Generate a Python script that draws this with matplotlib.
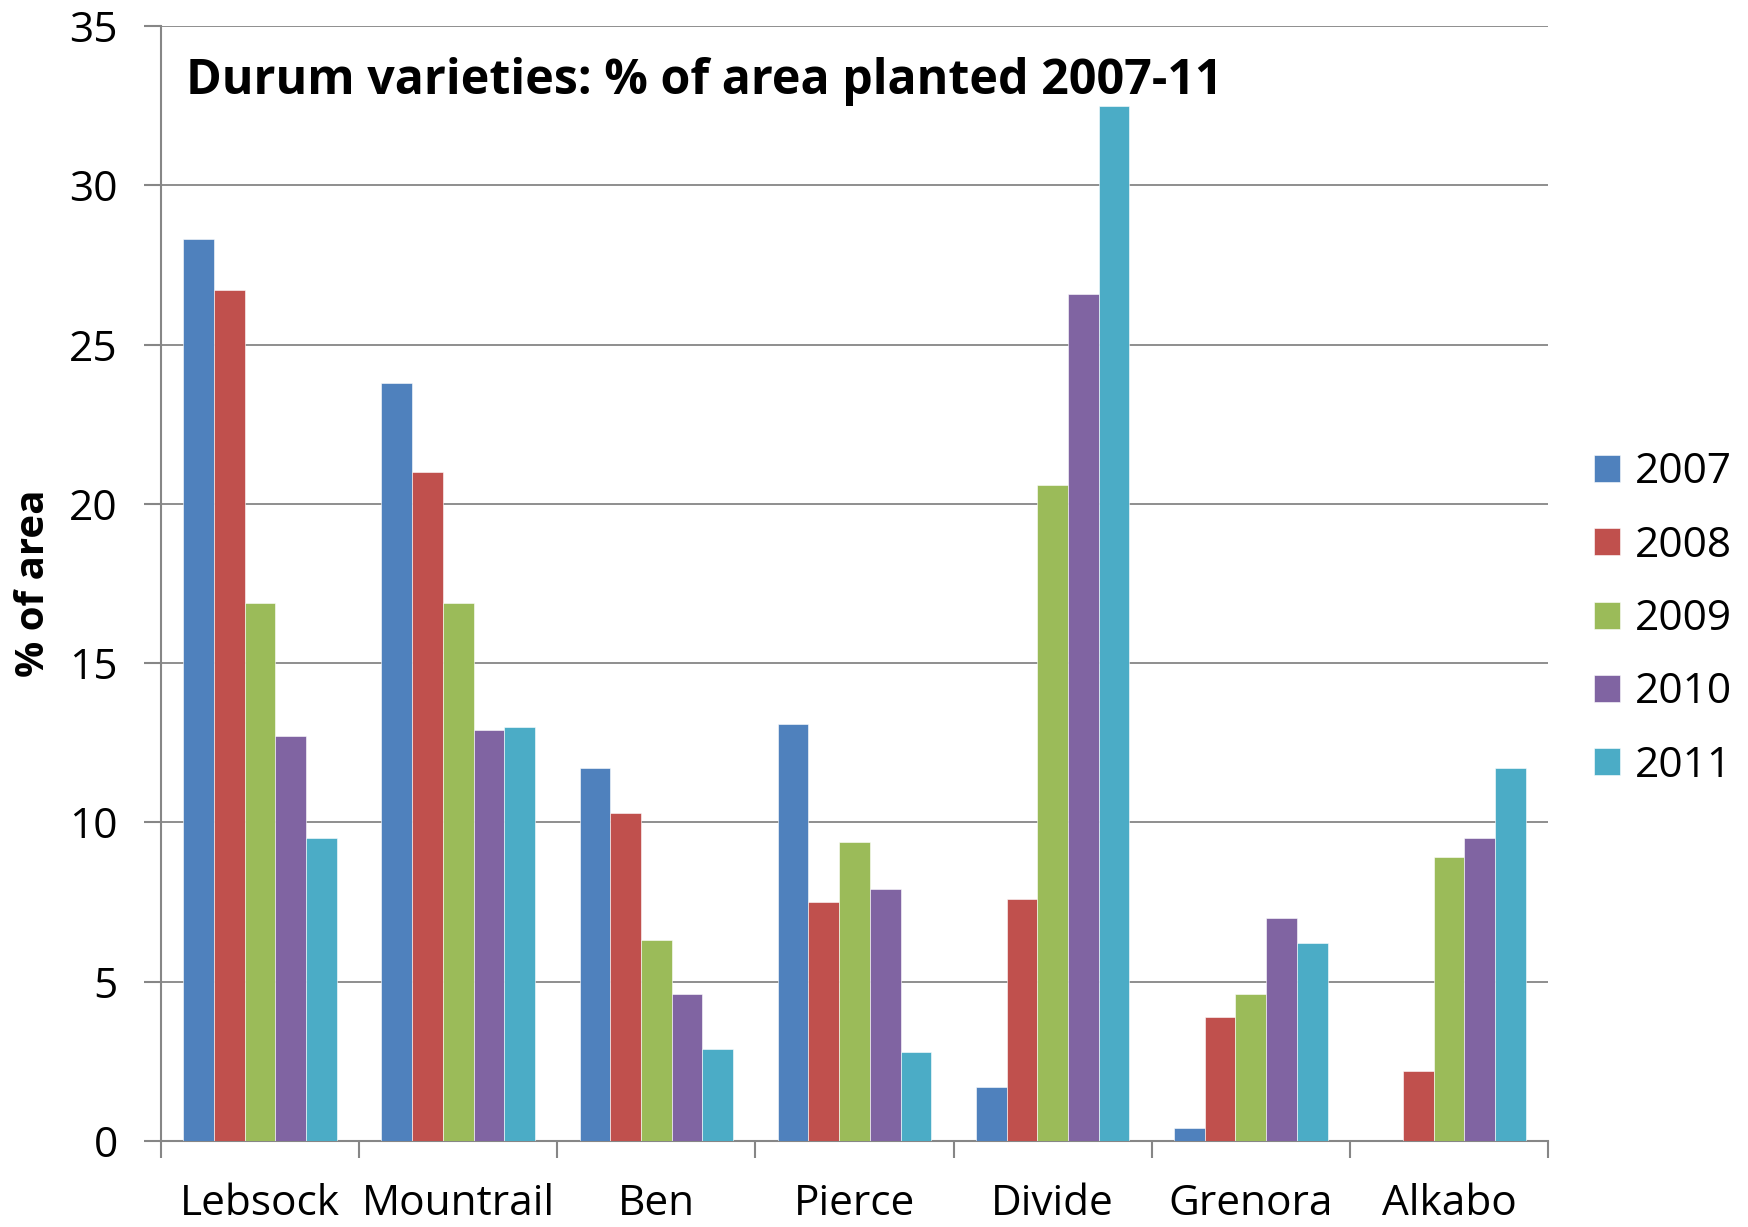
import matplotlib
matplotlib.use("Agg")
import matplotlib.pyplot as plt
import numpy as np

# dados
varieties = ["Lebsock", "Mountrail", "Ben", "Pierce", "Divide", "Grenora", "Alkabo"]
years = ["2007", "2008", "2009", "2010", "2011"]
pct_2007 = [28.3, 23.8, 11.7, 13.1, 1.7, 0.4, 0.0]
pct_2008 = [26.7, 21.0, 10.3, 7.5, 7.6, 3.9, 2.2]
pct_2009 = [16.9, 16.9, 6.3, 9.4, 20.6, 4.6, 8.9]
pct_2010 = [12.7, 12.9, 4.6, 7.9, 26.6, 7.0, 9.5]
pct_2011 = [9.5, 13.0, 2.9, 2.8, 32.5, 6.2, 11.7]
colors = ["#4F81BD", "#C0504D", "#9BBB59", "#8064A2", "#4BACC6"]

plt.rcParams['font.family'] = ['Open Sans', 'DejaVu Sans']
grey = "#868686"

fig = plt.figure(figsize=(17.49, 12.27), dpi=100)
W, H = 1749, 1227
ax = fig.add_axes([161 / W, 86 / H, (1548 - 161) / W, (1141 - 26) / H])

x = np.arange(len(varieties))
w = 0.155
series = [pct_2007, pct_2008, pct_2009, pct_2010, pct_2011]
for j, (vals, c, yr) in enumerate(zip(series, colors, years)):
    ax.bar(x + (j - 2) * w, vals, width=w, color=c, label=yr,
           edgecolor="white", linewidth=0.4, zorder=3)

ax.set_xlim(-0.5, len(varieties) - 0.5)
ax.set_ylim(0, 35)
ax.set_yticks(range(0, 36, 5))
ax.yaxis.grid(True, color=grey, linewidth=1.3, zorder=0)
ax.set_axisbelow(True)

for s in ("top", "right"):
    ax.spines[s].set_visible(False)
for s in ("left", "bottom"):
    ax.spines[s].set_color(grey)
    ax.spines[s].set_linewidth(1.5)

# ticks do eixo x nas fronteiras, rótulos no centro
ax.set_xticks(np.arange(-0.5, len(varieties), 1.0))
ax.set_xticklabels([])
ax.set_xticks(x, minor=True)
ax.set_xticklabels(varieties, minor=True)
ax.tick_params(axis="x", which="major", length=12, width=1.5, color=grey, direction="out")
ax.tick_params(axis="x", which="minor", length=0, pad=30, labelsize=30.5)
ax.tick_params(axis="y", length=12, width=1.5, color=grey, direction="out",
               pad=19, labelsize=30.5)

fig.text(186 / W, 1 - 81 / H, "Durum varieties: % of area planted 2007-11",
         fontsize=34.8, fontweight="bold", ha="left", va="center")
fig.text(34 / W, 1 - 583 / H, "% of area", fontsize=29, fontweight="bold",
         rotation=90, ha="center", va="center")

ax.legend(loc="center left", bbox_to_anchor=(1573 / W, 1 - 619 / H),
          bbox_transform=fig.transFigure, frameon=False, fontsize=30.5,
          handlelength=0.6, handleheight=0.6, handletextpad=0.35,
          labelspacing=0.74, borderpad=0)

fig.savefig("out.png", dpi=100)
